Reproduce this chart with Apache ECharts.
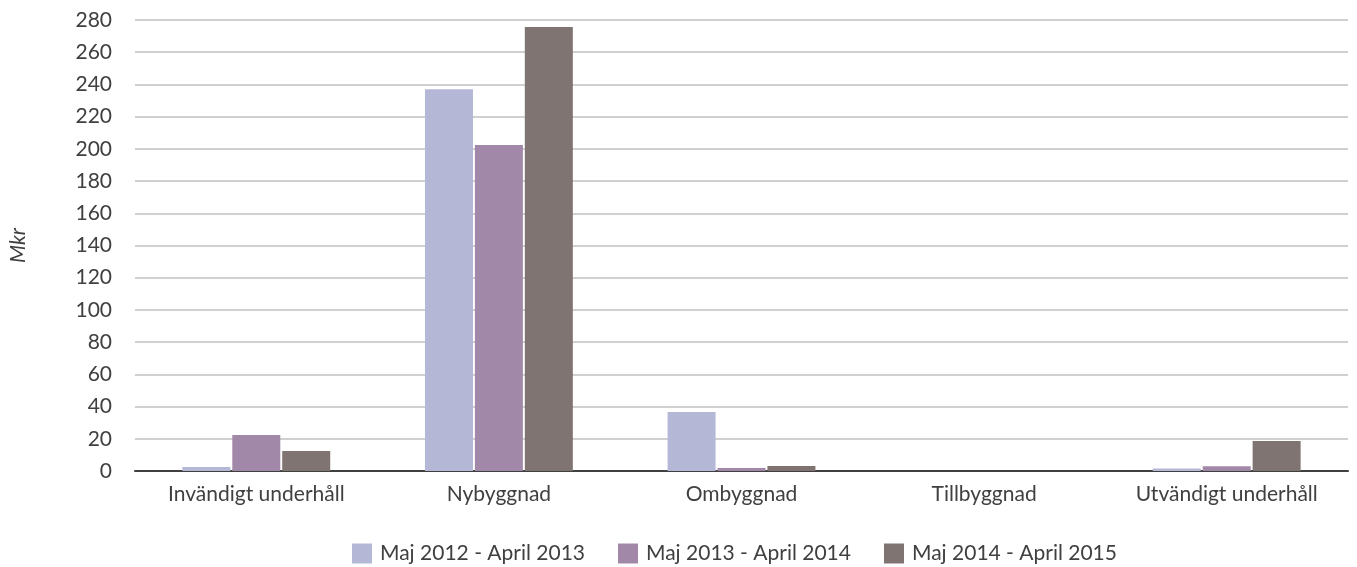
<!DOCTYPE html>
<html>
<head>
<meta charset="utf-8">
<script src="https://cdn.jsdelivr.net/npm/echarts@6/dist/echarts.min.js"></script>
<style>
  html, body { margin: 0; padding: 0; background: #fff; }
  #chart { width: 1357px; height: 567px; }
</style>
</head>
<body>
<div id="chart"></div>
<script>
// Investeringar per kategori (Mkr)
const categories = ['Invändigt underhåll', 'Nybyggnad', 'Ombyggnad', 'Tillbyggnad', 'Utvändigt underhåll'];
const seriesNames = ['Maj 2012 - April 2013', 'Maj 2013 - April 2014', 'Maj 2014 - April 2015'];
const values2012 = [2.5, 237, 36.6, 0, 1.5];
const values2013 = [22.3, 202.4, 1.9, 0, 3];
const values2014 = [12.4, 275.6, 3.1, 0, 18.6];
const colors = ['#B4B8D6', '#A288A8', '#7F7471'];

const font = 'Lato, "Open Sans", sans-serif';
const chart = echarts.init(document.getElementById('chart'));

const seriesData = [values2012, values2013, values2014];

chart.setOption({
  animation: false,
  textStyle: { fontFamily: font },
  grid: { left: 131, right: 9, top: 20, bottom: 96, containLabel: false },
  legend: {
    top: 538,
    left: 347,
    itemWidth: 20,
    itemHeight: 20,
    itemGap: 33,
    icon: 'rect',
    textStyle: { fontFamily: font, fontSize: 21, color: '#404040', padding: [0, 0, 0, 3] },
    data: seriesNames
  },
  xAxis: {
    type: 'category',
    data: categories,
    axisLine: { lineStyle: { color: '#404040', width: 2 } },
    axisTick: { show: false },
    axisLabel: { interval: 0, fontFamily: font, fontSize: 21, color: '#404040', margin: 13 }
  },
  yAxis: {
    type: 'value',
    min: 0,
    max: 280,
    interval: 20,
    name: 'Mkr',
    nameLocation: 'middle',
    nameRotate: 90,
    nameGap: 106,
    nameTextStyle: { fontFamily: font, fontSize: 21, fontStyle: 'italic', color: '#404040' },
    axisLine: { show: false },
    axisTick: { show: false },
    axisLabel: { fontFamily: font, fontSize: 21, color: '#404040', margin: 23 },
    splitLine: { lineStyle: { color: '#D0D0D0', width: 2 } }
  },
  series: seriesNames.map((name, i) => ({
    name,
    type: 'bar',
    data: seriesData[i],
    barWidth: 48,
    barGap: '4%',
    itemStyle: { color: colors[i] }
  }))
});
</script>
</body>
</html>
